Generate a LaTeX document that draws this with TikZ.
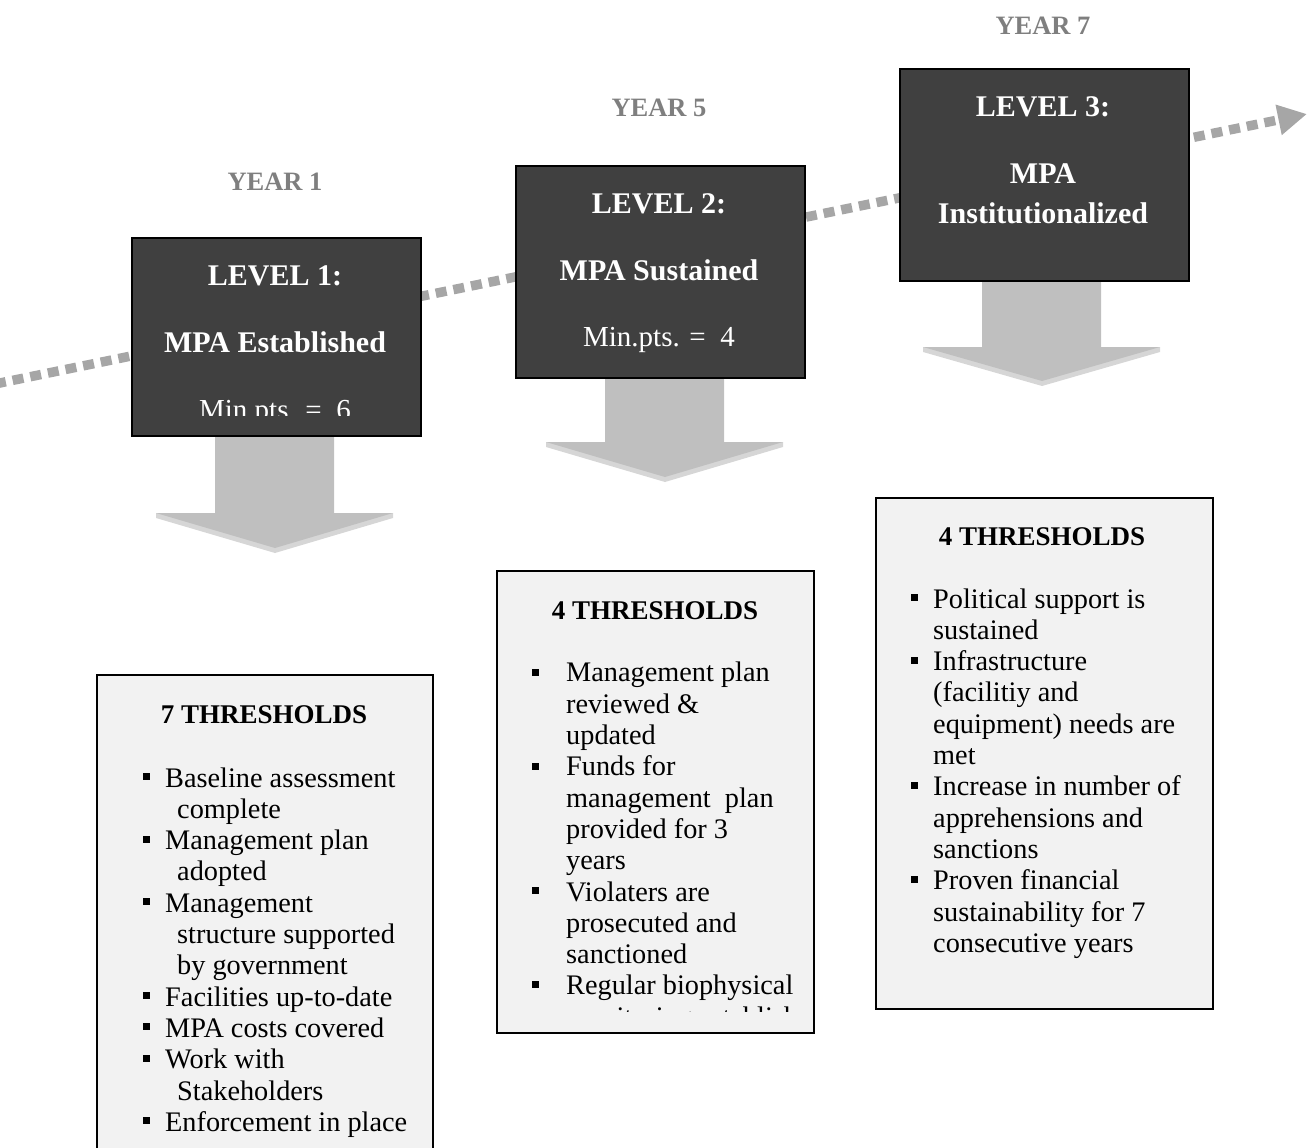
\documentclass[tikz,border=0pt]{standalone}
\usepackage{fontspec}
\setmainfont{Liberation Serif}
\usetikzlibrary{arrows.meta}
\definecolor{darkbox}{HTML}{404040}
\definecolor{lightbox}{HTML}{F2F2F2}
\definecolor{yeargrey}{HTML}{7F7F7F}
\definecolor{dashgrey}{HTML}{A6A6A6}
\definecolor{arrowgrey}{HTML}{BFBFBF}
\definecolor{arrowlight}{HTML}{D6D6D6}
\begin{document}
\begin{tikzpicture}[x=1pt,y=-1pt,
  levelbox/.style={draw=black, line width=2pt, fill=darkbox, inner sep=0pt, anchor=north west},
  thrbox/.style={draw=black, line width=1.8pt, fill=lightbox, inner sep=0pt, anchor=north west},
  yearlbl/.style={font=\fontsize{26.5}{30}\selectfont\bfseries, text=yeargrey, inner sep=0pt, anchor=base},
  lvltitle/.style={font=\fontsize{30}{34}\selectfont\bfseries, text=white, inner sep=0pt, anchor=base},
  lvlpts/.style={font=\fontsize{29}{33}\selectfont, text=white, inner sep=0pt, anchor=base},
  thrtitle/.style={font=\fontsize{27}{31}\selectfont\bfseries, text=black, inner sep=0pt, anchor=base},
  listtext/.style={font=\fontsize{28.3}{31.3}\selectfont, text=black, inner sep=0pt, align=left, anchor=base west},
  bulletsq/.style={fill=black},
  timeline/.style={draw=dashgrey, line width=9.5pt, dash pattern=on 11pt off 7pt, -{Triangle[length=29pt,width=29pt]}},
]
\useasboundingbox (0,0) rectangle (1307,1148);
\clip (0,0) rectangle (1307,1148);

% dotted timeline arrow
\coordinate (tstart) at (-5,384);
\coordinate (tend) at (1307,114);
\draw[timeline] (tstart) -- (tend);

% down block arrows (light rim then main)
\foreach \cx/\top/\hy/\tip in {275/430/513/548, 665/372/442/477, 1042/275/347/381}{
  \fill[arrowlight] (\cx-119,\hy+5) -- (\cx,\tip+5) -- (\cx+118,\hy+5) -- (\cx+118,\hy) -- (\cx-119,\hy) -- cycle;
  \fill[arrowgrey] (\cx-60,\top) -- (\cx+59,\top) -- (\cx+59,\hy) -- (\cx+118,\hy) -- (\cx,\tip) -- (\cx-119,\hy) -- (\cx-60,\hy) -- cycle;
}

% level boxes
\node[levelbox, minimum width=289pt, minimum height=198pt] (L1) at (131,237) {};
\node[levelbox, minimum width=289pt, minimum height=212pt] (L2) at (515,165) {};
\node[levelbox, minimum width=289pt, minimum height=212pt] (L3) at (899,68) {};

% year labels
\node[yearlbl] (Y1) at (275,190) {YEAR 1};
\node[yearlbl] (Y5) at (659,116) {YEAR 5};
\node[yearlbl] (Y7) at (1043,35) {YEAR 7};

% level texts
\node[lvltitle] (L1a) at (275,285) {LEVEL 1:};
\node[lvltitle] (L1b) at (275,352) {MPA Established};
\begin{scope}
  \clip (131,237) rectangle (420,415);
  \node[lvlpts] (L1c) at (275,419) {Min.pts. =~ 6};
\end{scope}
\node[lvltitle] (L2a) at (659,213) {LEVEL 2:};
\node[lvltitle] (L2b) at (659,280) {MPA Sustained};
\node[lvlpts] (L2c) at (659,346) {Min.pts. =~ 4};
\node[lvltitle] (L3a) at (1043,117) {LEVEL 3:};
\node[lvltitle] (L3b) at (1043,183) {MPA};
\node[lvltitle] (L3c) at (1043,223) {Institutionalized};

% threshold boxes
\node[thrbox, minimum width=336pt, minimum height=500pt] (T1) at (96,674) {};
\node[thrbox, minimum width=317pt, minimum height=462pt] (T2) at (496,570) {};
\node[thrbox, minimum width=337pt, minimum height=511pt] (T3) at (875,497) {};

\node[thrtitle] (T1t) at (264,723) {7 THRESHOLDS};
\node[thrtitle] (T2t) at (655,619) {4 THRESHOLDS};
\node[thrtitle] (T3t) at (1042,545) {4 THRESHOLDS};

% list A (anchor = baseline of last line)
\node[listtext] (T1l) at (165,787+11*31.3) {Baseline assessment\\\hspace*{12pt}complete\\Management plan\\\hspace*{12pt}adopted\\Management\\\hspace*{12pt}structure supported\\\hspace*{12pt}by government\\Facilities up-to-date\\MPA costs covered\\Work with\\\hspace*{12pt}Stakeholders\\Enforcement in place};
\foreach \k in {0,2,4,7,8,9,11}{
  \fill[bulletsq] (143,787+\k*31.3-7) rectangle ++(7,-7);
}

% list B
\begin{scope}
  \clip (496,570) rectangle (813,1011);
  \node[listtext] (T2l) at (566,683+11*31.2) {Management plan\\reviewed \&\\updated\\Funds for\\management~ plan\\provided for 3\\years\\Violaters are\\prosecuted and\\sanctioned\\Regular biophysical\\monitoring established};
\end{scope}
\foreach \k in {0,3,7,10}{
  \fill[bulletsq] (532,683+\k*31.2-7) rectangle ++(7,-7);
}

% list C
\node[listtext] (T3l) at (933,608+11*31.3) {Political support is\\sustained\\Infrastructure\\(facilitiy and\\equipment) needs are\\met\\Increase in number of\\apprehensions and\\sanctions\\Proven financial\\sustainability for 7\\consecutive years};
\foreach \k in {0,2,6,9}{
  \fill[bulletsq] (911,608+\k*31.3-7) rectangle ++(7,-7);
}
\end{tikzpicture}
\end{document}
